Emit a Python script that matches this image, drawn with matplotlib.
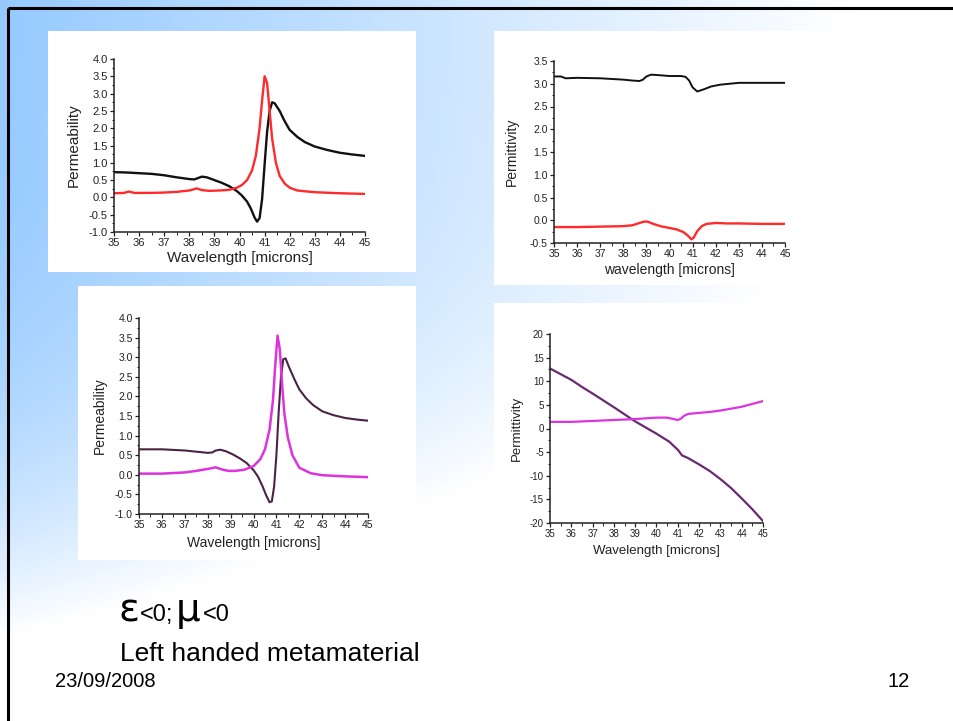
import numpy as np
import matplotlib
matplotlib.use("Agg")
import matplotlib.pyplot as plt
from matplotlib.patches import Rectangle
from matplotlib.ticker import MultipleLocator, FormatStrFormatter

# ---------------- data ----------------
# Panel 1: permeability (black = real, red = imaginary)
p1_x_re = [35, 35.5, 36, 36.5, 37, 37.5, 38, 38.2, 38.35, 38.5, 38.7, 39, 39.3, 39.6, 39.9, 40.1, 40.3,
           40.45, 40.6, 40.7, 40.8, 40.9, 41.0, 41.1, 41.2, 41.3, 41.4, 41.6, 41.8, 42, 42.3, 42.6, 43,
           43.5, 44, 44.5, 45]
p1_y_re = [0.73, 0.72, 0.70, 0.68, 0.64, 0.58, 0.53, 0.52, 0.56, 0.60, 0.58, 0.50, 0.42, 0.32, 0.18,
           0.05, -0.12, -0.32, -0.58, -0.70, -0.60, -0.05, 0.95, 1.90, 2.50, 2.75, 2.72, 2.50, 2.20,
           1.95, 1.75, 1.60, 1.47, 1.37, 1.29, 1.24, 1.20]
p1_x_im = [35, 35.4, 35.6, 35.8, 36.5, 37, 37.5, 38, 38.3, 38.5, 38.8, 39.2, 39.6, 39.9, 40.1, 40.3,
           40.5, 40.65, 40.8, 40.9, 41.0, 41.1, 41.2, 41.3, 41.45, 41.6, 41.8, 42, 42.3, 42.7, 43,
           44, 45]
p1_y_im = [0.12, 0.13, 0.17, 0.13, 0.13, 0.14, 0.16, 0.20, 0.26, 0.21, 0.19, 0.20, 0.22, 0.28, 0.36,
           0.50, 0.78, 1.20, 2.00, 2.80, 3.50, 3.30, 2.50, 1.70, 1.00, 0.62, 0.40, 0.28, 0.20, 0.17,
           0.15, 0.12, 0.10]

# Panel 2: permittivity (black = real, red = imaginary)
p2_x_re = [35, 35.3, 35.5, 36, 37, 38, 38.4, 38.7, 38.85, 39.0, 39.2, 39.5, 40, 40.5, 40.7, 40.85, 41.0,
           41.2, 41.5, 41.8, 42.2, 42.6, 43, 44, 45]
p2_y_re = [3.16, 3.16, 3.12, 3.13, 3.12, 3.09, 3.07, 3.06, 3.09, 3.16, 3.20, 3.19, 3.17, 3.17, 3.15,
           3.07, 2.92, 2.83, 2.88, 2.94, 2.98, 3.00, 3.02, 3.02, 3.02]
p2_x_im = [35, 36, 37, 38, 38.4, 38.7, 38.9, 39.05, 39.3, 39.6, 40, 40.3, 40.6, 40.8, 40.95, 41.05,
           41.2, 41.4, 41.6, 42, 42.5, 43, 44, 45]
p2_y_im = [-0.15, -0.15, -0.14, -0.13, -0.11, -0.06, -0.03, -0.03, -0.08, -0.13, -0.17, -0.20, -0.26,
           -0.34, -0.42, -0.38, -0.24, -0.13, -0.08, -0.06, -0.07, -0.07, -0.08, -0.08]

# Panel 3: permeability (dark = real, magenta = imaginary)
p3_x_re = [35, 36, 37, 37.5, 38, 38.2, 38.35, 38.55, 38.8, 39.1, 39.4, 39.7, 40, 40.2, 40.4, 40.55,
           40.7, 40.8, 40.9, 41.0, 41.1, 41.2, 41.3, 41.4, 41.55, 41.8, 42, 42.3, 42.6, 43, 43.5, 44,
           44.5, 45]
p3_y_re = [0.65, 0.65, 0.62, 0.59, 0.56, 0.57, 0.62, 0.64, 0.60, 0.52, 0.42, 0.30, 0.12, -0.05, -0.30,
           -0.52, -0.70, -0.68, -0.30, 0.50, 1.60, 2.50, 2.95, 2.97, 2.75, 2.42, 2.18, 1.95, 1.78, 1.62,
           1.52, 1.45, 1.41, 1.38]
p3_x_im = [35, 36, 37, 37.5, 38, 38.35, 38.6, 38.9, 39.2, 39.6, 40, 40.3, 40.5, 40.7, 40.85, 40.95,
           41.05, 41.15, 41.25, 41.35, 41.5, 41.7, 42, 42.5, 43, 44, 45]
p3_y_im = [0.03, 0.03, 0.06, 0.10, 0.15, 0.19, 0.14, 0.10, 0.10, 0.13, 0.22, 0.40, 0.65, 1.15, 1.90,
           2.80, 3.55, 3.20, 2.30, 1.55, 0.95, 0.50, 0.18, 0.04, -0.01, -0.04, -0.06]

# Panel 4: permittivity (dark = real, magenta = imaginary)
p4_x_re = [35, 35.5, 36, 36.5, 37, 38, 39, 40, 40.6, 41.0, 41.2, 41.5, 42, 42.5, 43, 43.5, 44, 44.5, 45]
p4_y_re = [12.7, 11.5, 10.3, 8.8, 7.4, 4.5, 1.5, -1.1, -2.8, -4.5, -5.7, -6.3, -7.6, -9.0, -10.7,
           -12.6, -14.8, -17.1, -19.6]
p4_x_im = [35, 36, 37, 38, 39, 40, 40.5, 40.8, 41.0, 41.15, 41.3, 41.5, 42, 42.5, 43, 43.5, 44, 44.5, 45]
p4_y_im = [1.4, 1.4, 1.6, 1.8, 2.0, 2.3, 2.3, 2.0, 1.8, 2.1, 2.7, 3.1, 3.3, 3.5, 3.8, 4.2, 4.6, 5.2, 5.8]

# ---------------- figure ----------------
W, H = 954, 721
fig = plt.figure(figsize=(W / 100, H / 100), dpi=100)
plt.rcParams['font.family'] = ['Liberation Sans', 'DejaVu Sans']

# background gradient
bg = fig.add_axes([0, 0, 1, 1])
xx, yy = np.meshgrid(np.linspace(0, W, 240), np.linspace(0, H, 180))
t = np.clip(xx / 850.0 + (yy / 640.0) ** 3, 0, 1)
blue = np.array([150, 202, 255]) / 255.0
white = np.array([1.0, 1.0, 1.0])
img = blue[None, None, :] * (1 - t[..., None]) + white[None, None, :] * t[..., None]
bg.imshow(img, extent=[0, W, H, 0], aspect='auto', interpolation='bilinear')
bg.set_xlim(0, W)
bg.set_ylim(H, 0)
bg.axis('off')
# slide border (top and left)
bg.plot([8, W], [8, 8], color='black', lw=2.2, solid_capstyle='butt')
bg.plot([8, 8], [8, H], color='black', lw=2.2, solid_capstyle='butt')

# white panels
for (x0, y0, x1, y1) in [(48, 31, 416, 272), (494, 31, 831, 285), (78, 286, 416, 560), (494, 303, 808, 568)]:
    bg.add_patch(Rectangle((x0, y0), x1 - x0, y1 - y0, facecolor='white', edgecolor='none'))

# text
bg.text(119, 621, 'ε', fontsize=28, family='DejaVu Sans', va='baseline', ha='left')
bg.text(140, 621, '<0;', fontsize=17, va='baseline', ha='left')
bg.text(176, 621, 'μ', fontsize=28, family='DejaVu Sans', va='baseline', ha='left')
bg.text(203, 621, '<0', fontsize=17, va='baseline', ha='left')
bg.text(120, 661, 'Left handed metamaterial', fontsize=19, va='baseline', ha='left')
bg.text(55, 687, '23/09/2008', fontsize=14.5, va='baseline', ha='left')
bg.text(888, 687, '12', fontsize=14.5, va='baseline', ha='left')


def make_axes(x0, y0, x1, y1):
    return fig.add_axes([x0 / W, 1 - y1 / H, (x1 - x0) / W, (y1 - y0) / H])


def style(ax, ylim, ymaj, ymin, yfmt, ylabel, xlabel, labsize, ticksize, ylp, xlp):
    ax.set_xlim(35, 45)
    ax.set_ylim(*ylim)
    ax.set_facecolor('none')
    for s in ['top', 'right']:
        ax.spines[s].set_visible(False)
    for s in ['left', 'bottom']:
        ax.spines[s].set_linewidth(1.1)
        ax.spines[s].set_color('#222222')
    ax.xaxis.set_major_locator(MultipleLocator(1))
    ax.xaxis.set_minor_locator(MultipleLocator(0.5))
    ax.yaxis.set_major_locator(MultipleLocator(ymaj))
    ax.yaxis.set_minor_locator(MultipleLocator(ymin))
    ax.yaxis.set_major_formatter(FormatStrFormatter(yfmt))
    ax.tick_params(which='major', direction='out', length=3, width=0.9, labelsize=ticksize, pad=1.5,
                   colors='#222222')
    ax.tick_params(which='minor', direction='out', length=1.8, width=0.7, colors='#222222')
    ax.set_xlabel(xlabel, fontsize=labsize, labelpad=xlp, color='#222222')
    ax.set_ylabel(ylabel, fontsize=labsize, labelpad=ylp, color='#222222')


# Panel 1
ax1 = make_axes(114, 59, 365, 232)
ax1.plot(p1_x_re, p1_y_re, color='#111111', lw=1.7)
ax1.plot(p1_x_im, p1_y_im, color='#ff2a2a', lw=1.7)
style(ax1, (-1.0, 4.0), 0.5, 0.25, '%.1f', 'Permeability', 'Wavelength [microns]', 11, 8, 6, 2)

# Panel 2
ax2 = make_axes(554, 61, 785, 243)
ax2.plot(p2_x_re, p2_y_re, color='#111111', lw=1.4)
ax2.plot(p2_x_im, p2_y_im, color='#ff2a2a', lw=1.7)
style(ax2, (-0.5, 3.5), 0.5, 0.25, '%.1f', 'Permittivity', 'wavelength [microns]', 10, 7.5, 8, 3)

# Panel 3
ax3 = make_axes(139, 318, 368, 514)
ax3.plot(p3_x_re, p3_y_re, color='#4a2347', lw=1.5)
ax3.plot(p3_x_im, p3_y_im, color='#dd33dd', lw=1.8)
style(ax3, (-1.0, 4.0), 0.5, 0.25, '%.1f', 'Permeability', 'Wavelength [microns]', 10, 7.5, 6, 4)

# Panel 4
ax4 = make_axes(550, 334, 763, 523)
ax4.plot(p4_x_re, p4_y_re, color='#6a2a72', lw=1.6)
ax4.plot(p4_x_im, p4_y_im, color='#dd33dd', lw=1.6)
style(ax4, (-20, 20), 5, 2.5, '%d', 'Permittivity', 'Wavelength [microns]', 9.5, 7, 5, 4)

fig.savefig('out.png', dpi=100)
